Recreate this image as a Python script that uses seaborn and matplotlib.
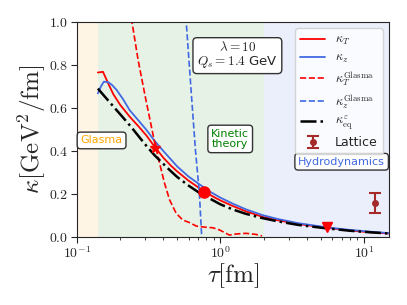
import numpy as np
import matplotlib
matplotlib.use("Agg")
import matplotlib.pyplot as plt
import matplotlib.ticker as ticker
import seaborn as sns

# kappa_T (full simulation)
tau_T = [0.14, 0.152, 0.165, 0.179, 0.2, 0.233, 0.27, 0.305, 0.348, 0.4, 0.45, 0.5, 0.6,
         0.7, 0.775, 0.9, 1.0, 1.22, 1.5, 1.96, 2.5, 3.5, 5.5, 8.0, 11.0, 15.0]
kap_T = [0.765, 0.768, 0.715, 0.665, 0.615, 0.56, 0.513, 0.472, 0.42, 0.369, 0.333, 0.305,
         0.262, 0.231, 0.211, 0.186, 0.170, 0.144, 0.12, 0.094, 0.078, 0.060, 0.043, 0.030,
         0.022, 0.016]

# kappa_z
tau_z = [0.14, 0.147, 0.154, 0.165, 0.175, 0.189, 0.21, 0.233, 0.27, 0.305, 0.35, 0.4, 0.45,
         0.5, 0.6, 0.714, 0.85, 1.0, 1.22, 1.5, 1.96, 2.5, 3.5, 5.5, 8.0, 11.0, 15.0]
kap_z = [0.668, 0.70, 0.722, 0.72, 0.708, 0.684, 0.64, 0.59, 0.54, 0.498, 0.445, 0.40, 0.362,
         0.328, 0.281, 0.245, 0.21, 0.183, 0.155, 0.129, 0.102, 0.084, 0.064, 0.045, 0.033,
         0.025, 0.018]

# kappa_eq^epsilon
tau_eq = [0.14, 0.17, 0.21, 0.24, 0.274, 0.31, 0.348, 0.4, 0.45, 0.5, 0.6, 0.7, 0.8, 1.0,
          1.22, 1.5, 1.96, 2.5, 3.5, 5.5, 8.0, 11.0, 15.0]
kap_eq = [0.69, 0.625, 0.555, 0.51, 0.462, 0.418, 0.38, 0.34, 0.307, 0.279, 0.239, 0.209,
          0.187, 0.152, 0.128, 0.108, 0.088, 0.073, 0.056, 0.040, 0.029, 0.022, 0.016]

# Glasma curves
tau_TG = [0.23, 0.242, 0.267, 0.30, 0.348, 0.377, 0.408, 0.443, 0.492, 0.547, 0.609, 0.678,
          0.796, 0.885, 0.984, 1.096, 1.155, 1.29, 1.51, 1.77, 1.95]
kap_TG = [1.1, 1.0, 0.823, 0.65, 0.44, 0.343, 0.25, 0.172, 0.11, 0.079, 0.067, 0.051,
          0.045, 0.043, 0.033, 0.017, 0.009, 0.014, 0.017, 0.012, 0.005]
tau_zG = [0.56, 0.578, 0.632, 0.67, 0.714, 0.741]
kap_zG = [1.12, 1.0, 0.637, 0.405, 0.203, 0.0]

# markers
star_pt = (0.348, 0.415)
circ_pt = (0.775, 0.211)
tri_pt = (5.5, 0.045)
lat_tau, lat_val, lat_err = 11.9, 0.158, 0.045

sns.set_style("ticks")
plt.rcParams['mathtext.fontset'] = 'cm'
plt.rcParams['font.family'] = ['DejaVu Sans']

fig, ax = plt.subplots(figsize=(4.07, 3.05), dpi=100)
fig.subplots_adjust(left=0.189, right=0.956, bottom=0.223, top=0.928)

# 時間領域の背景
ax.axvspan(0.1, 0.14, color='orange', alpha=0.1, lw=0)
ax.axvspan(0.14, 2.0, color='green', alpha=0.1, lw=0)
ax.axvspan(2.0, 15.0, color='royalblue', alpha=0.1, lw=0)

sns.lineplot(x=tau_T, y=kap_T, ax=ax, color='red', lw=1.3, sort=False, estimator=None,
             label=r'$\kappa_T$')
sns.lineplot(x=tau_z, y=kap_z, ax=ax, color='royalblue', lw=1.3, sort=False, estimator=None,
             label=r'$\kappa_z$')
sns.lineplot(x=tau_TG, y=kap_TG, ax=ax, color='red', lw=1.2, ls='--', sort=False,
             estimator=None, label=r'$\kappa_T^{\rm Glasma}$')
sns.lineplot(x=tau_zG, y=kap_zG, ax=ax, color='royalblue', lw=1.2, ls='--', sort=False,
             estimator=None, label=r'$\kappa_z^{\rm Glasma}$')
sns.lineplot(x=tau_eq, y=kap_eq, ax=ax, color='black', lw=1.8, ls='-.', sort=False,
             estimator=None, label=r'$\kappa^{\varepsilon}_{\rm eq}$')

ax.plot(*star_pt, marker='*', color='red', ms=8, ls='none')
ax.plot(*circ_pt, marker='o', color='red', ms=8, ls='none')
ax.plot(*tri_pt, marker='v', color='red', ms=7, ls='none')
ax.errorbar(lat_tau, lat_val, yerr=lat_err, fmt='o', color='#a52a2a', ms=4, capsize=4,
            lw=1.5, capthick=1.5, label='Lattice')

ax.set_xscale('log')
ax.set_xlim(0.1, 15)
ax.set_ylim(0, 1.0)
ax.yaxis.set_major_locator(ticker.MultipleLocator(0.2))
ax.yaxis.set_major_formatter(ticker.FuncFormatter(lambda v, p: f'${v:.1f}$'))
ax.xaxis.set_major_formatter(ticker.FuncFormatter(
    lambda v, p: f'$10^{{{int(round(np.log10(v)))}}}$'))
ax.tick_params(labelsize=10, direction='out', length=4, pad=2)
ax.tick_params(which='minor', length=2)

ax.set_xlabel(r'$\tau[\mathrm{fm}]$', fontsize=18, labelpad=0)
ax.set_ylabel(r'$\kappa[\mathrm{GeV}^2/\mathrm{fm}]$', fontsize=18, labelpad=1)

box = dict(boxstyle='round,pad=0.3', fc='white', ec='#333333', lw=1)
ax.text(0.514, 0.848, '$\\lambda=10$\n$Q_s=1.4$ GeV', transform=ax.transAxes, ha='center',
        va='center', fontsize=9.5, bbox=box, linespacing=1.0)
ax.text(0.079, 0.449, 'Glasma', transform=ax.transAxes, ha='center', va='center',
        fontsize=8, color='orange', bbox=box)
ax.text(0.491, 0.456, 'Kinetic\ntheory', transform=ax.transAxes, ha='center', va='center',
        fontsize=8, color='green', bbox=box, linespacing=1.1)
ax.text(0.848, 0.35, 'Hydrodynamics', transform=ax.transAxes, ha='center', va='center',
        fontsize=8, color='royalblue', bbox=box)

ax.legend(loc='upper right', fontsize=9, framealpha=0.8, borderaxespad=0.5,
          labelspacing=0.3, borderpad=0.4, handlelength=2.0)

fig.savefig('out.png', dpi=100)
